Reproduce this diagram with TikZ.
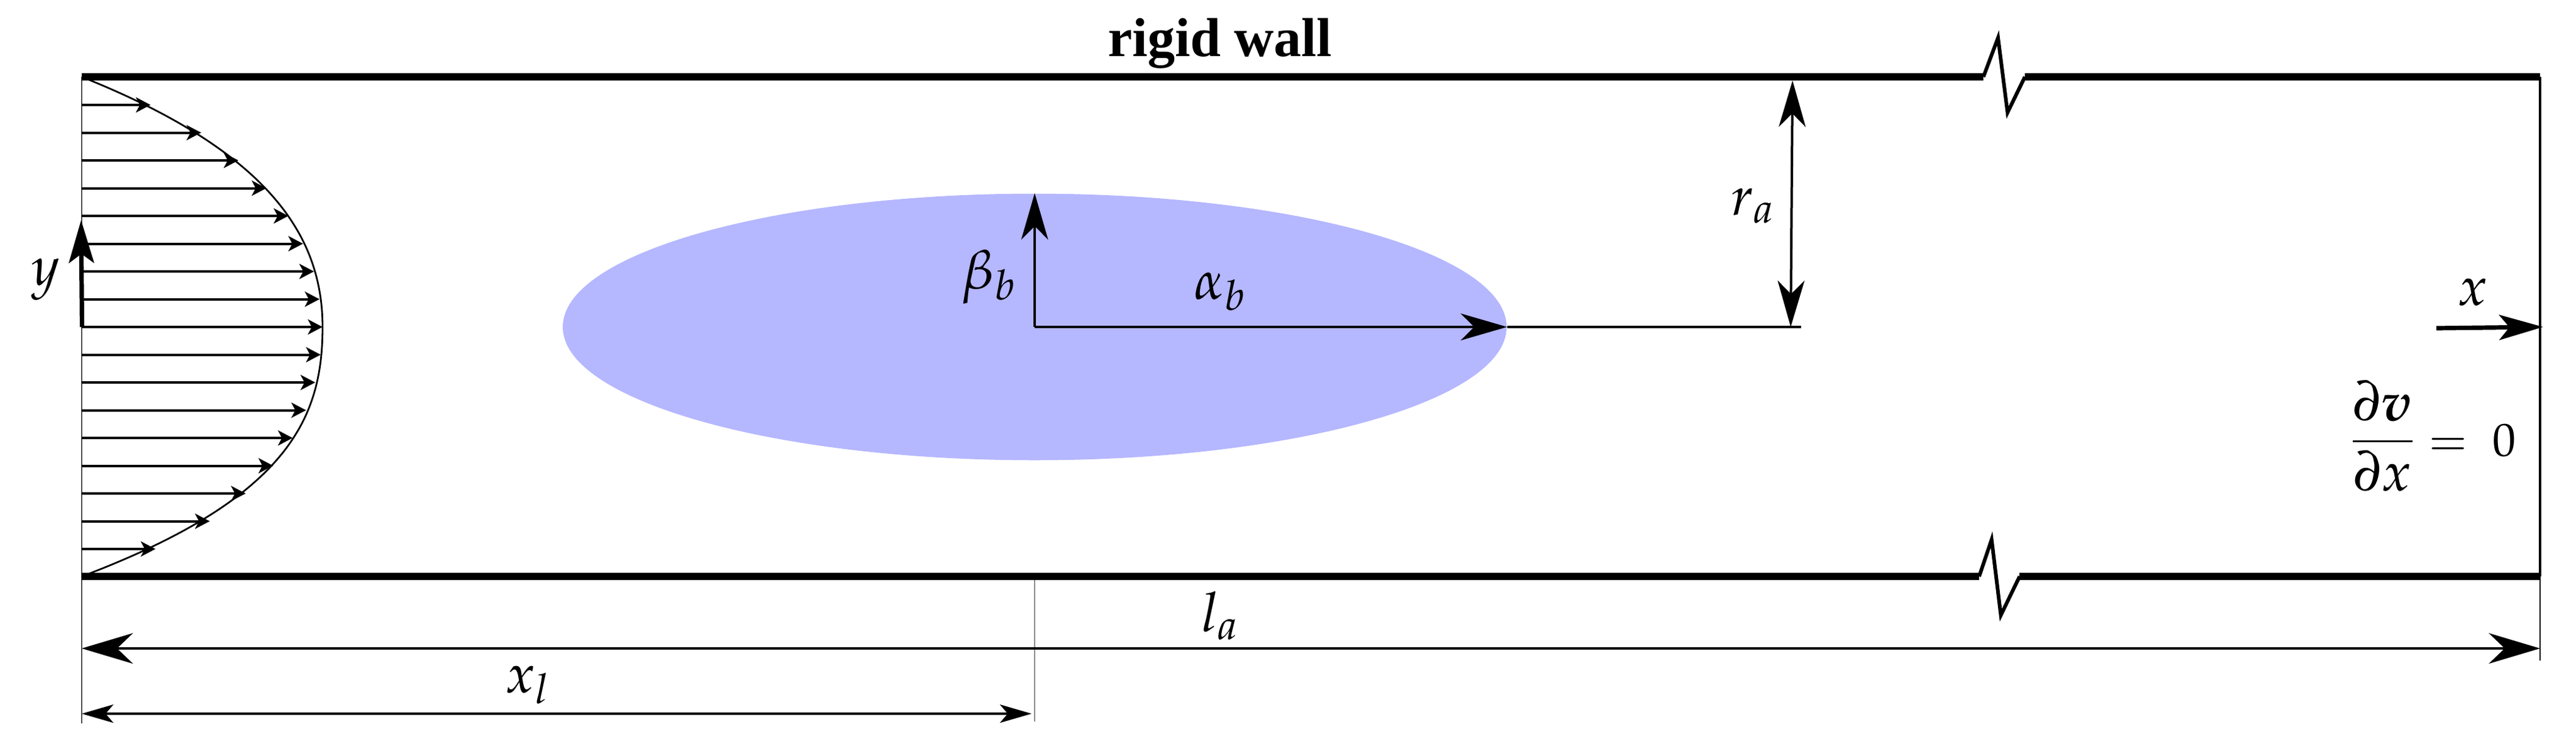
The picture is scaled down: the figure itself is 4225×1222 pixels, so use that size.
\documentclass[tikz,border=0pt]{standalone}
\usepackage{amsmath}
\usepackage{mathpazo}
\usepackage{bm}
\usepackage[no-math]{fontspec}
\newfontfamily\wallfont{Liberation Serif}
\usetikzlibrary{arrows.meta,shapes.geometric}
\definecolor{bubble}{RGB}{181,183,255}
\tikzset{
  x=0.25pt,y=-0.25pt,
  wall/.style={line width=2.9pt,line join=miter},
  zig/.style={line width=1.5pt,line join=miter,miter limit=10},
  guide/.style={line width=0.45pt,black!45},
  flow/.style={line width=1pt,-{Stealth[length=6pt,width=6.2pt,inset=1.6pt]}},
  dim/.style={line width=1pt},
  lab/.style={inner sep=0pt,anchor=base,font=\fontsize{22.5}{27}\selectfont},
}
\begin{document}
\begin{tikzpicture}
\useasboundingbox (0,0) rectangle (4225,1222);
% bubble
\node[ellipse,fill=bubble,draw=none,inner sep=0pt,minimum width=387pt,minimum height=109.25pt] (body) at (1697,536) {};
% guides
\coordinate (tl) at (134,126);
\coordinate (bl) at (134,945);
\coordinate (tr) at (4166,126);
\coordinate (br) at (4166,945);
\coordinate (lbot) at (134,1186);
\coordinate (rbot) at (4166,1083);
\coordinate (xlbot) at (1697,1183);
\coordinate (xltop) at (1697,939);
\coordinate (vtx) at (529,536);
\draw[line width=0.5pt,black!70] (tl) -- (lbot);
\draw[line width=1pt] (tr) -- (br);
\draw[line width=0.5pt] (br) -- (rbot);
\draw[guide] (xltop) -- (xlbot);
% velocity profile
\foreach \yy/\tip in {172/247,217.5/330,263/391,308.5/437,354/473,399.5/497,445/515,490.5/524,536/529,581.5/526,627/517,672.5/502,718/480,763.5/448,809/403,854.5/344,900/255}{
  \coordinate (s) at (134,\yy);
  \coordinate (e) at (\tip,\yy);
  \draw[flow] (s) -- (e);
}
\draw[line width=0.7pt] (tl) .. controls (445,250) and (529,390) .. (vtx) .. controls (529,680) and (479,815) .. (bl);
% walls
\coordinate (za1) at (3253,126);
\coordinate (za2) at (3277,62);
\coordinate (za3) at (3292.6,184.5);
\coordinate (za4) at (3321,126);
\coordinate (zb1) at (3246,945);
\coordinate (zb2) at (3266.5,884.6);
\coordinate (zb3) at (3281.6,1008.5);
\coordinate (zb4) at (3312.4,945);
\draw[wall] (tl) -- (za1);
\draw[wall] (za4) -- (tr);
\draw[zig] (za1) -- (za2) -- (za3) -- (za4);
\draw[wall] (bl) -- (zb1);
\draw[wall] (zb4) -- (br);
\draw[zig] (zb1) -- (zb2) -- (zb3) -- (zb4);
% bubble axes
\coordinate (rtip) at (2954,536);
\draw[line width=0.9pt] (body.east) -- (rtip);
\draw[dim,-{Stealth[length=19pt,width=11pt,inset=5.5pt]}] (body.center) -- (body.east);
\draw[dim,-{Stealth[length=19pt,width=11pt,inset=5.5pt]}] (body.center) -- (body.north);
% r_a
\coordinate (ra1) at (2940,132);
\coordinate (ra2) at (2937,536);
\draw[dim,{Stealth[length=19pt,width=11pt,inset=5.5pt]}-{Stealth[length=19pt,width=11pt,inset=5.5pt]}] (ra1) -- (ra2);
% l_a, x_l
\coordinate (la1) at (134,1063);
\coordinate (la2) at (4166,1063);
\draw[line width=1pt,{Stealth[length=21pt,width=12.5pt,inset=6.5pt]}-{Stealth[length=21pt,width=12.5pt,inset=6.5pt]}] (la1) -- (la2);
\coordinate (xl1) at (134,1170);
\coordinate (xl2) at (1692,1170);
\draw[line width=0.8pt,{Stealth[length=13pt,width=7.5pt,inset=3.2pt]}-{Stealth[length=13pt,width=7.5pt,inset=3.2pt]}] (xl1) -- (xl2);
% coordinate axes
\coordinate (yb) at (134.5,536);
\coordinate (yt) at (133,361);
\draw[line width=1.8pt,-{Stealth[length=17.5pt,width=10.3pt,inset=3.7pt]}] (yb) -- (yt);
\coordinate (xb) at (3996,538);
\coordinate (xt) at (4171,536);
\draw[line width=1.8pt,-{Stealth[length=18pt,width=10.3pt,inset=4.2pt]}] (xb) -- (xt);
% labels
\node[inner sep=0pt,anchor=base,font=\fontsize{22.5}{27}\selectfont\wallfont\bfseries] (wallt) at (2001,92) {rigid wall};
\node[lab] (ly) at (75,467) {$y$};
\node[lab] (lx) at (4056,500) {$x$};
\node[lab] (lb) at (1622,473) {$\beta_b$};
\node[lab] (la) at (2001,490) {$\alpha_b$};
\node[lab] (lr) at (2875,352) {$r_a$};
\node[lab] (ll) at (2001,1035) {$l_a$};
\node[lab] (lxl) at (866,1135) {$x_l$};
\node[inner sep=0pt,anchor=center,font=\fontsize{22.5}{27}\selectfont] (bcf) at (3908,716) {$\displaystyle\frac{\raisebox{-1.2pt}{$\partial\bm{v}$}}{\raisebox{0.8pt}{$\partial x$}}$};
\node[inner sep=0pt,anchor=base,font=\fontsize{19}{23}\selectfont] (bce) at (4055,747) {$=\;0$};
\end{tikzpicture}
\end{document}
